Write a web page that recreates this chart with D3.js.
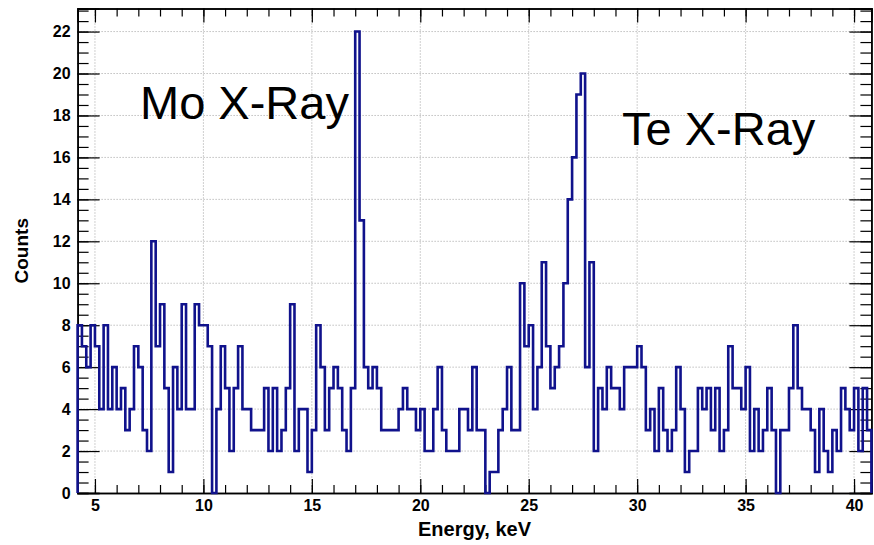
<!DOCTYPE html>
<html>
<head>
<meta charset="utf-8">
<script src="https://cdn.jsdelivr.net/npm/d3@7"></script>
<style>
  body { margin: 0; background: #fff; }
  text { font-family: "Liberation Sans", Arial, Helvetica, sans-serif; }
</style>
</head>
<body>
<div id="chart"></div>
<script>
// histogram: 0.2 keV bins starting at 4.2 keV
const binLow = 4.2
const binWidth = 0.2
const counts = [
  8, 7, 6, 8, 7, 4, 8, 4, 6, 4, 5, 3, 4, 7, 6, 3, 2, 12, 7, 9,
  5, 1, 6, 4, 9, 4, 4, 9, 8, 8, 7, 0, 4, 7, 5, 2, 5, 7, 4, 4,
  3, 3, 3, 5, 2, 5, 2, 3, 5, 9, 2, 4, 4, 1, 3, 8, 6, 3, 5, 6,
  5, 3, 2, 5, 22, 13, 6, 5, 6, 5, 3, 3, 3, 3, 4, 5, 4, 4, 3, 4,
  2, 2, 4, 6, 3, 2, 2, 2, 4, 4, 3, 6, 3, 3, 0, 1, 1, 3, 4, 6,
  3, 3, 10, 7, 8, 4, 6, 11, 7, 5, 6, 7, 10, 14, 16, 19, 20, 6, 11, 2,
  5, 4, 6, 5, 5, 4, 6, 6, 6, 7, 6, 3, 4, 2, 5, 3, 2, 3, 6, 4,
  1, 2, 2, 5, 4, 5, 3, 5, 2, 3, 7, 5, 5, 4, 6, 2, 4, 2, 3, 5,
  3, 0, 3, 3, 5, 8, 5, 4, 4, 3, 1, 4, 2, 1, 3, 2, 5, 4, 3, 5,
  2, 5, 3
]
const xTicks = [5, 10, 15, 20, 25, 30, 35, 40]
const yTicks = [0, 2, 4, 6, 8, 10, 12, 14, 16, 18, 20, 22]
const labels = [
  { text: 'Mo X-Ray', x: 140, y: 119 },
  { text: 'Te X-Ray', x: 622, y: 145 }
]

function draw(width, height) {
  const svg = d3.select('#chart')
    .append('svg')
    .attr('width', width)
    .attr('height', height)

  const left = 77.6, right = 871.4, top = 8.5, bottom = 493
  const xMax = binLow + binWidth * counts.length

  const x = d3.scaleLinear().domain([binLow, xMax]).range([left, right])
  const y = d3.scaleLinear().domain([0, 23.1]).range([bottom, top])

  // grid
  const grid = svg.append('g')
    .attr('stroke', '#a0a0a0')
    .attr('stroke-width', 1)
    .attr('stroke-dasharray', '1,2')
  grid.selectAll('.gx').data(xTicks).enter().append('line')
    .attr('x1', d => x(d)).attr('x2', d => x(d))
    .attr('y1', top).attr('y2', bottom)
  grid.selectAll('.gy').data(yTicks.slice(1)).enter().append('line')
    .attr('x1', left).attr('x2', right)
    .attr('y1', d => y(d)).attr('y2', d => y(d))

  // minor ticks
  const xMinor = d3.range(5, 41, 1)
  const yMinor = d3.range(0, 23.01, 0.5)

  function axis(gen, tr, major, minor, size, msize, labelsOn) {
    const g = svg.append('g').attr('transform', tr)
    g.call(gen(minor).tickSize(msize).tickFormat(''))
    const m = svg.append('g').attr('transform', tr)
    m.call(gen(major).tickSize(size).tickPadding(labelsOn ? 7 : 0)
      .tickFormat(labelsOn ? d3.format('d') : ''))
    ;[g, m].forEach(s => {
      s.select('.domain').attr('stroke', '#000').attr('stroke-width', 1.5)
      s.selectAll('.tick line').attr('stroke', '#000').attr('stroke-width', 1.2)
    })
    m.selectAll('.tick text')
      .attr('fill', '#000')
      .style('font-size', '16px')
      .style('font-weight', 'bold')
    return m
  }

  axis(v => d3.axisBottom(x).tickValues(v), `translate(0,${bottom})`, xTicks, xMinor, -14, -8, true)
  axis(v => d3.axisTop(x).tickValues(v), `translate(0,${top})`, xTicks, xMinor, -14, -8, false)
  axis(v => d3.axisLeft(y).tickValues(v), `translate(${left},0)`, yTicks, yMinor, -22, -11, true)
  axis(v => d3.axisRight(y).tickValues(v), `translate(${right},0)`, yTicks, yMinor, -22, -11, false)

  // histogram outline
  const pts = [[binLow, 0]]
  counts.forEach((c, i) => pts.push([binLow + i * binWidth, c]))
  pts.push([xMax, counts[counts.length - 1]])
  pts.push([xMax, 0])

  const line = d3.line()
    .x(d => x(d[0]))
    .y(d => y(d[1]))
    .curve(d3.curveStepAfter)

  svg.append('path')
    .datum(pts)
    .attr('d', line)
    .attr('fill', 'none')
    .attr('stroke', '#10128c')
    .attr('stroke-width', 2.6)
    .attr('stroke-linejoin', 'miter')

  // axis titles
  svg.append('text')
    .attr('x', (left + right) / 2)
    .attr('y', 536)
    .attr('text-anchor', 'middle')
    .style('font-size', '20px')
    .style('font-weight', 'bold')
    .text('Energy, keV')

  svg.append('text')
    .attr('transform', `translate(28,${(top + bottom) / 2}) rotate(-90)`)
    .attr('text-anchor', 'middle')
    .style('font-size', '19px')
    .style('font-weight', 'bold')
    .text('Counts')

  // peak annotations
  svg.selectAll('.lbl').data(labels).enter().append('text')
    .attr('x', d => d.x)
    .attr('y', d => d.y)
    .style('font-size', '47px')
    .attr('fill', '#000')
    .text(d => d.text)
}

draw(874, 545)
</script>
</body>
</html>
